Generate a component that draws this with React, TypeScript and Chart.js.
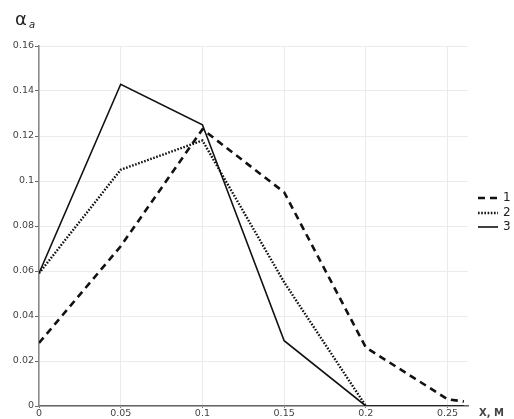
import React, { useEffect, useRef } from "react";
import { Chart, registerables } from "chart.js";

Chart.register(...registerables);

const xValues = [0, 0.05, 0.1, 0.15, 0.2, 0.25, 0.26];
const series1 = [0.028, 0.071, 0.123, 0.095, 0.026, 0.003, 0.002];
const series2 = [0.059, 0.105, 0.118, 0.055, 0];
const series3 = [0.059, 0.143, 0.125, 0.029, 0, null, 0];
const seriesLabels = ["1", "2", "3"];
const xTicks = [0, 0.05, 0.1, 0.15, 0.2, 0.25];
const yTitle = "α";
const yTitleSub = "a";
const xTitle = "X, M";

const fmt = (v: number) => String(+v.toFixed(4));

const toPoints = (ys: (number | null)[]) =>
  ys
    .map((y, i) => (y === null ? null : { x: xValues[i], y }))
    .filter((p) => p !== null) as { x: number; y: number }[];

const styles = [
  { borderDash: [7, 5], borderWidth: 2.6 },
  { borderDash: [1.6, 1.6], borderWidth: 2.4 },
  { borderDash: [], borderWidth: 1.6 },
];

const extras = {
  id: "extras",
  afterDraw(chart: any) {
    const ctx = chart.ctx;
    const area = chart.chartArea;
    ctx.save();
    const lx = 478;
    const ly = [198, 213, 227];
    chart.data.datasets.forEach((ds: any, i: number) => {
      ctx.beginPath();
      ctx.setLineDash(ds.borderDash || []);
      ctx.lineWidth = ds.borderWidth;
      ctx.strokeStyle = "#111";
      ctx.moveTo(lx, ly[i]);
      ctx.lineTo(lx + 20, ly[i]);
      ctx.stroke();
      ctx.setLineDash([]);
      ctx.fillStyle = "#222";
      ctx.font = "12px 'DejaVu Sans'";
      ctx.textBaseline = "middle";
      ctx.textAlign = "left";
      ctx.fillText(ds.label, lx + 25, ly[i]);
    });
    ctx.fillStyle = "#222";
    ctx.font = "18px 'DejaVu Sans'";
    ctx.textBaseline = "alphabetic";
    ctx.fillText(yTitle, 15, 25);
    ctx.font = "italic 10px 'DejaVu Sans'";
    ctx.fillText(yTitleSub, 29, 28);
    ctx.font = "bold 10px 'DejaVu Sans'";
    ctx.fillStyle = "#444";
    ctx.textBaseline = "middle";
    ctx.fillText(xTitle, 479, area.bottom + 7);
    ctx.restore();
  },
};

export default function App() {
  const ref = useRef<HTMLCanvasElement>(null);
  useEffect(() => {
    document.body.style.margin = "0";
    const chart = new Chart(ref.current!, {
      type: "line",
      data: {
        datasets: [series1, series2, series3].map((s, i) => ({
          label: seriesLabels[i],
          data: toPoints(s),
          borderColor: "#111",
          backgroundColor: "#111",
          pointRadius: 0,
          tension: 0,
          fill: false,
          ...styles[i],
        })),
      },
      options: {
        animation: false,
        responsive: false,
        maintainAspectRatio: false,
        layout: { padding: { top: 46, right: 46, left: 0, bottom: 0 } },
        plugins: { legend: { display: false }, tooltip: { enabled: false } },
        scales: {
          x: {
            type: "linear",
            min: 0,
            max: 0.2625,
            afterBuildTicks: (scale: any) => {
              scale.ticks = xTicks.map((v) => ({ value: v }));
            },
            afterFit: (scale: any) => {
              scale.height = 13;
            },
            ticks: {
              callback: (v: any) => fmt(Number(v)),
              color: "#444",
              font: { family: "'DejaVu Sans'", size: 9.5 },
              padding: 0,
              maxRotation: 0,
              autoSkip: false,
            },
            grid: { color: "#ebebeb", tickColor: "#777", tickLength: 2, lineWidth: 1 },
            border: { color: "#666", width: 1.5 },
          },
          y: {
            type: "linear",
            min: 0,
            max: 0.16,
            afterFit: (scale: any) => {
              scale.width = 39;
            },
            ticks: {
              stepSize: 0.02,
              callback: (v: any) => fmt(Number(v)),
              color: "#444",
              font: { family: "'DejaVu Sans'", size: 9.5 },
              padding: 1,
            },
            grid: { color: "#ebebeb", tickColor: "#666", tickLength: 4, lineWidth: 1 },
            border: { color: "#888", width: 1.5 },
          },
        },
      },
      plugins: [extras],
    });
    return () => chart.destroy();
  }, []);
  return (
    <div style={{ width: 514, height: 419, background: "#fff" }}>
      <canvas ref={ref} width={514} height={419} />
    </div>
  );
}
